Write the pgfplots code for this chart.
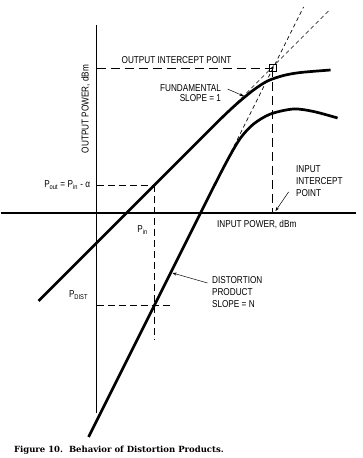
\documentclass[border=0pt]{standalone}
\usepackage{pgfplots}
\pgfplotsset{compat=1.18}
\usepackage{fontspec}
\setmainfont{Liberation Sans}[FakeStretch=0.82]
\newfontfamily\capfont{DejaVu Serif}
\usetikzlibrary{arrows.meta}

\begin{document}
\begin{tikzpicture}
\begin{axis}[
  width=362pt, height=458pt, scale only axis,
  xmin=-96, xmax=266, ymin=-245, ymax=213,
  hide axis, clip=false,
  every node/.style={font=\fontsize{7.5}{9.4}\selectfont, inner sep=0pt},
]
% frame of the page
\path (axis cs:-96,-245) rectangle (axis cs:266,213);

% input / output power axes
\addplot[black, line width=1.1pt] coordinates {(0,188) (0,-200)};
\addplot[black, line width=1.1pt] coordinates {(-96,0) (259,0)};

% construction lines for the intercept point and the example levels
\addplot[black, line width=0.9pt, dash pattern=on 9pt off 5pt] coordinates {(0,145) (176,145)};
\addplot[black, line width=0.9pt, dash pattern=on 9pt off 5pt] coordinates {(176,145) (176,0)};
\addplot[black, line width=0.8pt, dash pattern=on 7pt off 4pt] coordinates {(0,28) (58,28)};
\addplot[black, line width=0.8pt, dash pattern=on 7pt off 4pt] coordinates {(58,28) (58,-127)};
\addplot[black, line width=0.8pt, dash pattern=on 7pt off 4pt] coordinates {(0,-92) (74,-92)};

% extrapolations of the linear regions
\addplot[black, line width=0.6pt, dash pattern=on 4pt off 3pt] coordinates {(140,110) (234,204)};
\addplot[black, line width=0.6pt, dash pattern=on 4pt off 3pt] coordinates {(128,48) (207,206)};

% fundamental, slope 1, compressing near the intercept
\addplot[black, line width=2.7pt, smooth, tension=0.5] coordinates {
  (-58,-88) (40,10) (100,70) (124,94) (140,109) (157,123) (171,132)
  (187,137.5) (204,140.5) (234,143)};

% distortion product, slope N
\addplot[black, line width=2.7pt, smooth, tension=0.5] coordinates {
  (-8,-224) (50,-108) (110,12) (131,53) (144,75) (157,89) (174,99)
  (197,104) (217,101.5) (241,95)};

% intercept marker
\addplot[black, only marks, mark=square, mark size=3.5pt, mark options={line width=0.7pt}] coordinates {(176,145)};
\addplot[black, only marks, mark=*, mark size=0.8pt] coordinates {(176,145)};

% labels
\node[anchor=center] at (axis cs:80,153) {OUTPUT INTERCEPT POINT};
\node[anchor=east] at (axis cs:128,125) {FUNDAMENTAL};
\node[anchor=east] at (axis cs:128,115) {SLOPE = 1};
\draw[-{Stealth[length=4pt,width=3pt]}, line width=0.5pt] (axis cs:131,124) -- (axis cs:147,117);

\node[rotate=90] at (axis cs:-11,104) {OUTPUT POWER, dBm};
\node[anchor=east] at (axis cs:-3,28) {P\textsubscript{out} = P\textsubscript{in} - α};
\node at (axis cs:46,-17) {P\textsubscript{in}};
\node at (axis cs:-18,-82) {P\textsubscript{DIST}};

\node[anchor=north west, align=left] at (axis cs:112,-60) {DISTORTION\\PRODUCT\\SLOPE = N};
\draw[-{Stealth[length=4pt,width=3pt]}, line width=0.5pt] (axis cs:111,-70) -- (axis cs:76,-60);

\node[anchor=north west, align=left] at (axis cs:196,51) {INPUT\\INTERCEPT\\POINT};
\draw[-{Stealth[length=4pt,width=3pt]}, line width=0.5pt] (axis cs:192,21) -- (axis cs:179,2);

\node[anchor=west] at (axis cs:117,-12) {INPUT POWER, dBm};

\node[anchor=west, font=\capfont\bfseries\fontsize{8.5}{10.5}\selectfont] at (axis cs:-86,-237)
  {Figure 10.\ \ Behavior of Distortion Products.};
\end{axis}
\end{tikzpicture}
\end{document}
